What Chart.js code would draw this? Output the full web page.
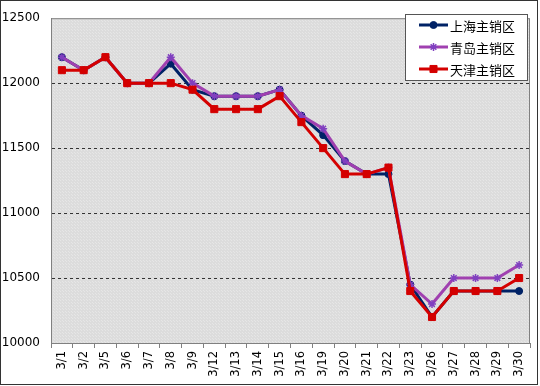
<!DOCTYPE html>
<html><head><meta charset="utf-8">
<script src="https://cdn.jsdelivr.net/npm/chart.js@4/dist/chart.umd.min.js"></script>
<style>html,body{margin:0;padding:0;background:#fff}#w{width:540px;height:386px;position:relative}</style>
</head><body><div id="w"><canvas id="c" width="540" height="386"></canvas></div>
<script>
const categories = ["3/1","3/2","3/5","3/6","3/7","3/8","3/9","3/12","3/13","3/14","3/15","3/16","3/19","3/20","3/21","3/22","3/23","3/26","3/27","3/28","3/29","3/30"];
const shanghai = [12200,12100,12200,12000,12000,12150,11950,11900,11900,11900,11950,11750,11600,11400,11300,11300,10450,10200,10400,10400,10400,10400];
const qingdao  = [12200,12100,12200,12000,12000,12200,12000,11900,11900,11900,11950,11750,11650,11400,11300,11350,10450,10300,10500,10500,10500,10600];
const tianjin  = [12100,12100,12200,12000,12000,12000,11950,11800,11800,11800,11900,11700,11500,11300,11300,11350,10400,10200,10400,10400,10400,10500];
const seriesNames = ["上海主销区","青岛主销区","天津主销区"];
const yTicks = [10000,10500,11000,11500,12000,12500];

const colors = ["#002266","#a040b0","#d40000"];
const markerFill = ["#002266","#7030a0","#d40000"];
const styles = ["circle","star","rect"];
const radii = [3.5,4,5];

function makePattern(ctx){
  const p = document.createElement('canvas'); p.width=3; p.height=3;
  const g = p.getContext('2d');
  g.fillStyle='#dcdcdc'; g.fillRect(0,0,3,3);
  g.fillStyle='#e6e6e6'; g.fillRect(0,0,1,1); g.fillRect(2,2,1,1);
  return ctx.createPattern(p,'repeat');
}

const bgPlugin = {
  id:'bg',
  beforeDraw(chart){
    const {ctx, chartArea:a} = chart;
    ctx.save();
    ctx.fillStyle = makePattern(ctx);
    ctx.fillRect(a.left,a.top,a.right-a.left,a.bottom-a.top);
    ctx.strokeStyle='#333'; ctx.lineWidth=1;
    ctx.strokeRect(0.5,0.5,537,384);
    ctx.strokeStyle='#808080';
    ctx.strokeRect(a.left+0.5,a.top+0.5,a.right-a.left-1,a.bottom-a.top);
    ctx.restore();
  },
  afterDraw(chart){
    const ctx = chart.ctx;
    ctx.save();
    const x0=405,y0=14,w=122,h=66;
    ctx.fillStyle='#fff'; ctx.fillRect(x0,y0,w,h);
    ctx.strokeStyle='#555'; ctx.lineWidth=1; ctx.strokeRect(x0+0.5,y0+0.5,w,h);
    chart.data.datasets.forEach((ds,i)=>{
      const y = y0+11+i*22;
      ctx.strokeStyle=ds.borderColor; ctx.lineWidth=3;
      ctx.beginPath(); ctx.moveTo(419,y); ctx.lineTo(448,y); ctx.stroke();
      ctx.fillStyle=ds.pointBackgroundColor; ctx.strokeStyle=ds.pointBorderColor; ctx.lineWidth=ds.pointBorderWidth;
      Chart.helpers.drawPoint(ctx,{pointStyle:ds.pointStyle,radius:ds.pointRadius,borderWidth:ds.pointBorderWidth,rotation:0},433.5,y);
      ctx.fillStyle='#000';
      ctx.font='13px "Noto Sans CJK SC"';
      ctx.textBaseline='middle'; ctx.textAlign='left';
      ctx.fillText(ds.label,450,y+1);
    });
    ctx.restore();
  }
};

const datasets = [shanghai,qingdao,tianjin].map((d,i)=>({
  label: seriesNames[i],
  data: d,
  borderColor: colors[i],
  backgroundColor: colors[i],
  pointBackgroundColor: markerFill[i],
  pointBorderColor: i===1 ? '#8040c0' : markerFill[i],
  pointStyle: styles[i],
  pointRadius: radii[i],
  pointBorderWidth: i===1?1.5:1,
  borderWidth: 3,
  tension: 0,
  order: 3-i
}));

new Chart(document.getElementById('c'),{
  type:'line',
  data:{labels:categories,datasets},
  plugins:[bgPlugin],
  options:{
    responsive:false,
    animation:false,
    layout:{padding:{left:0,top:9,right:10,bottom:0}},
    plugins:{legend:{display:false},tooltip:{enabled:false}},
    scales:{
      x:{
        offset:true,
        afterFit(s){ s.height = 43; },
        grid:{drawOnChartArea:false,offset:true,tickLength:5,color:'#808080'},
        border:{color:'#808080'},
        ticks:{minRotation:90,maxRotation:90,autoSkip:false,color:'#000',padding:3,font:{family:'DejaVu Sans',size:11.5}}
      },
      y:{
        min:10000,max:12500,
        afterFit(s){ s.width = 51; },
        afterBuildTicks(s){ s.ticks = yTicks.map(v=>({value:v})); },
        grid:{drawTicks:false,lineWidth:1,color:(c)=> (c.tick && (c.tick.value===10000||c.tick.value===12500)) ? 'rgba(0,0,0,0)' : '#333'},
        border:{display:true,color:'#808080',dash:[3,3]},
        ticks:{padding:11,color:'#000',font:{family:'DejaVu Sans',size:12},callback:(v)=>String(v)}
      }
    }
  }
});
</script></body></html>
